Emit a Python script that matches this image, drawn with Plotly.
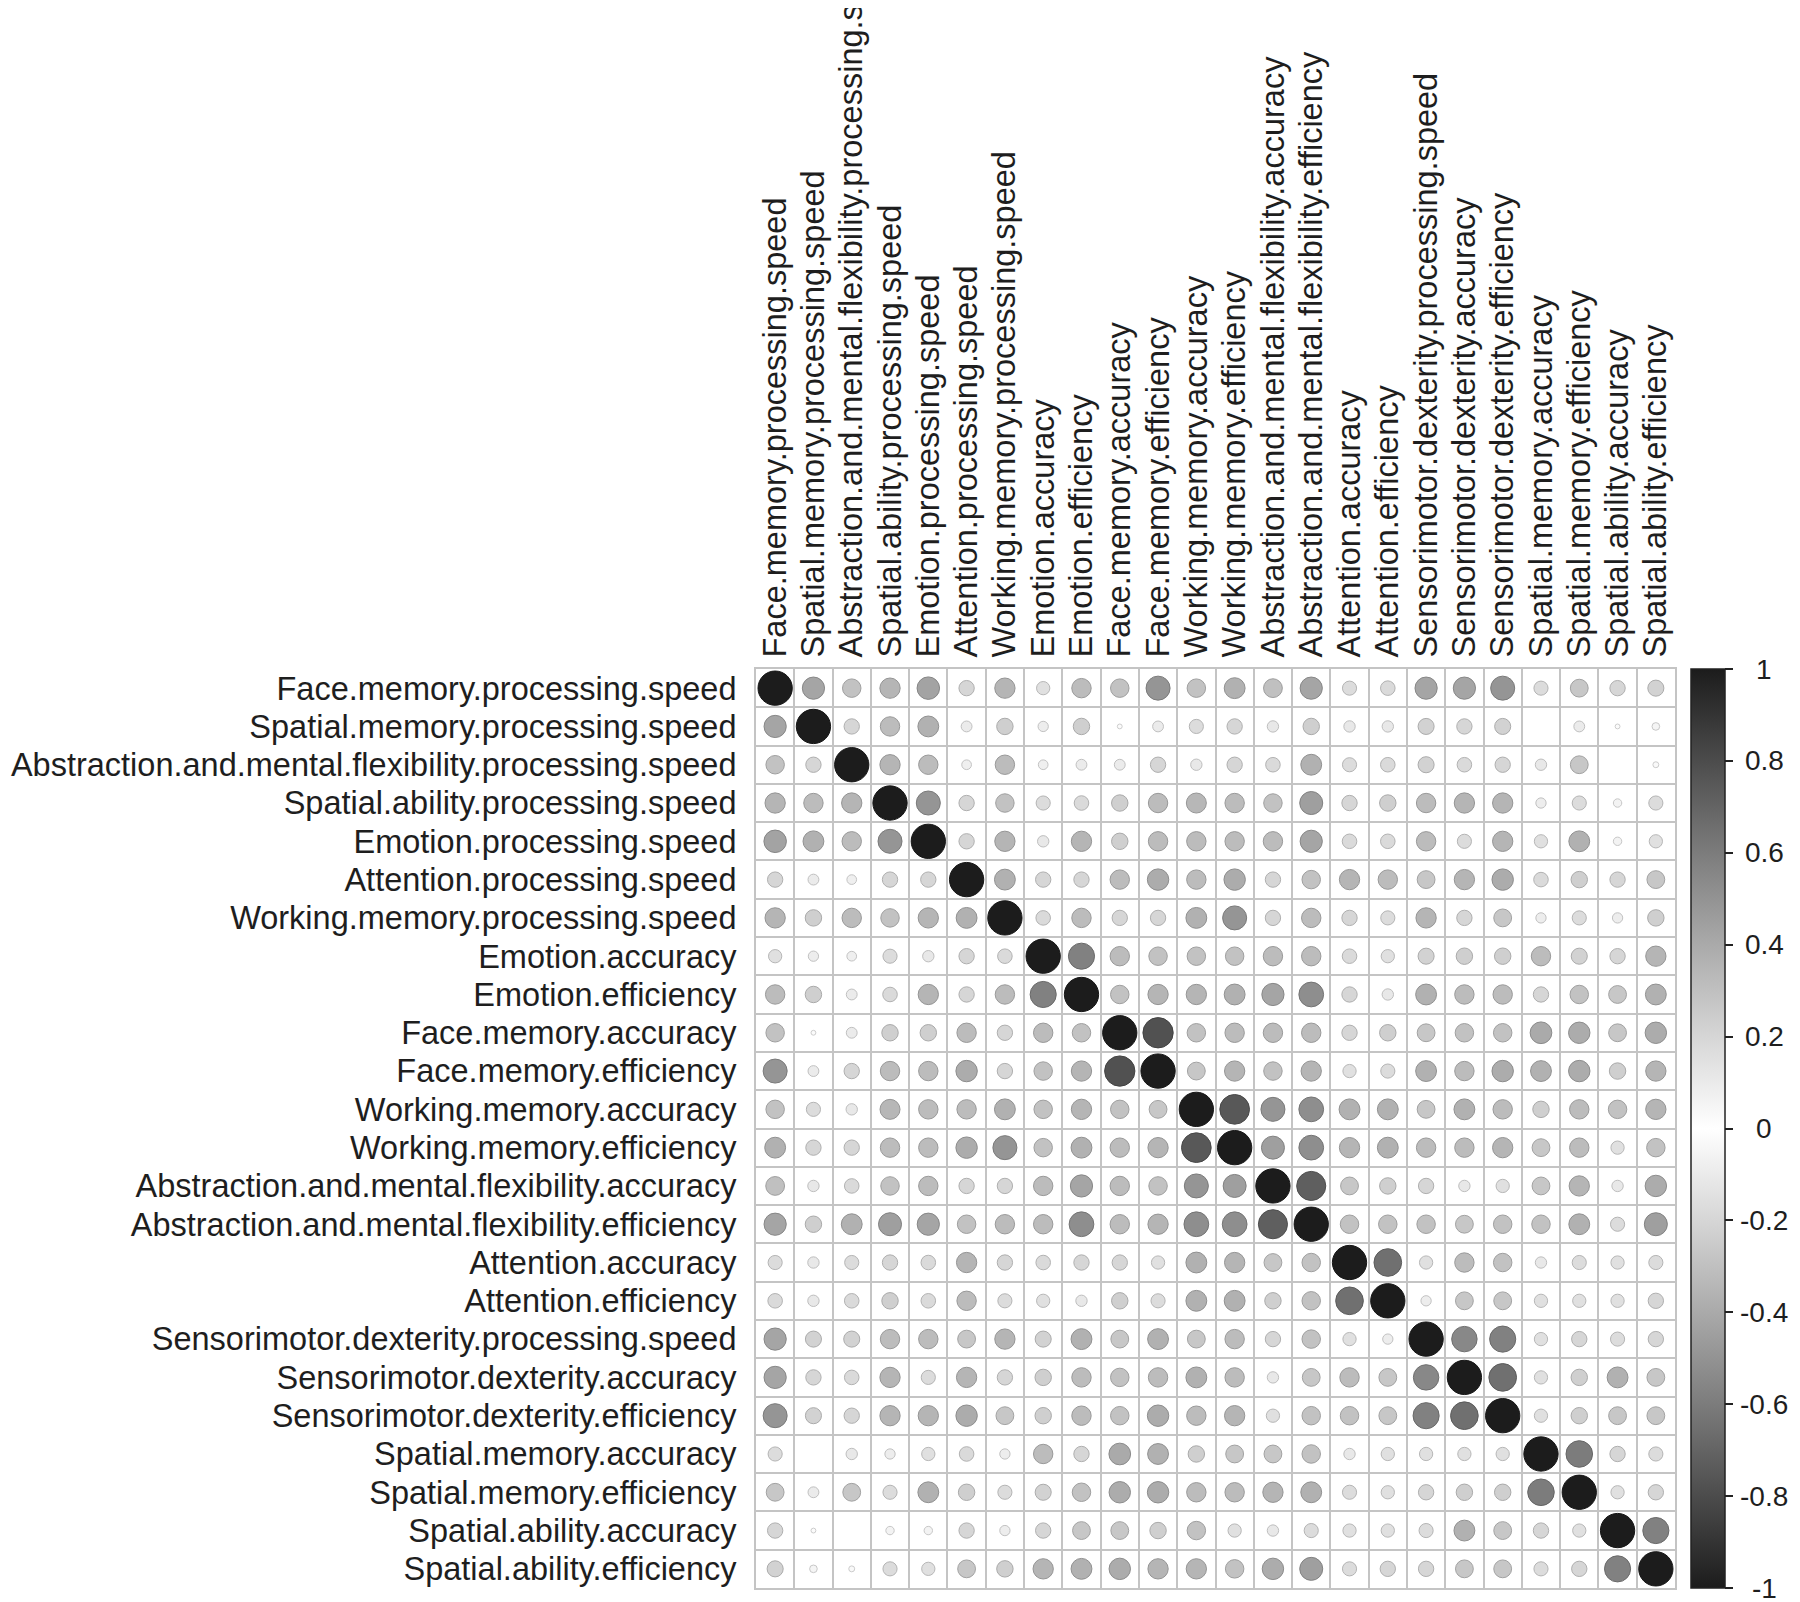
import plotly.graph_objects as go

labels = [
    "Face.memory.processing.speed",
    "Spatial.memory.processing.speed",
    "Abstraction.and.mental.flexibility.processing.speed",
    "Spatial.ability.processing.speed",
    "Emotion.processing.speed",
    "Attention.processing.speed",
    "Working.memory.processing.speed",
    "Emotion.accuracy",
    "Emotion.efficiency",
    "Face.memory.accuracy",
    "Face.memory.efficiency",
    "Working.memory.accuracy",
    "Working.memory.efficiency",
    "Abstraction.and.mental.flexibility.accuracy",
    "Abstraction.and.mental.flexibility.efficiency",
    "Attention.accuracy",
    "Attention.efficiency",
    "Sensorimotor.dexterity.processing.speed",
    "Sensorimotor.dexterity.accuracy",
    "Sensorimotor.dexterity.efficiency",
    "Spatial.memory.accuracy",
    "Spatial.memory.efficiency",
    "Spatial.ability.accuracy",
    "Spatial.ability.efficiency",
]

# upper triangle (j > i) of the correlation matrix, row by row
upper = [
    [.42, .29, .35, .43, .20, .35, .15, .32, .29, .49, .29, .37, .30, .42, .17, .18, .42, .42, .49, .17, .27, .20, .22],
    [.20, .32, .37, .10, .23, .09, .23, .02, .10, .17, .20, .11, .23, .11, .11, .22, .20, .22, .00, .10, .02, .05],
    [.35, .32, .08, .32, .08, .10, .10, .20, .11, .20, .18, .37, .17, .18, .22, .18, .20, .11, .27, .00, .03],
    [.49, .20, .29, .17, .18, .23, .32, .34, .32, .29, .45, .20, .23, .32, .35, .35, .09, .17, .06, .17],
    [.20, .35, .11, .35, .23, .32, .32, .32, .32, .42, .18, .18, .32, .17, .35, .15, .37, .06, .15],
    [.37, .20, .20, .32, .39, .32, .39, .20, .29, .35, .32, .27, .35, .39, .18, .23, .20, .27],
    [.18, .32, .20, .20, .37, .49, .20, .32, .20, .17, .35, .20, .27, .09, .17, .09, .23],
    [.58, .32, .29, .29, .29, .32, .32, .18, .15, .22, .23, .23, .32, .22, .20, .35],
    [.29, .35, .35, .37, .42, .52, .20, .11, .37, .32, .32, .20, .29, .27, .37],
    [.78, .29, .32, .32, .32, .20, .23, .27, .29, .29, .40, .39, .27, .39],
    [.27, .35, .29, .35, .15, .17, .37, .32, .39, .37, .39, .23, .35],
    [.75, .49, .52, .37, .37, .27, .37, .32, .23, .32, .29, .35],
    [.45, .52, .35, .37, .32, .32, .35, .27, .32, .15, .29],
    [.72, .27, .23, .20, .11, .15, .27, .35, .11, .39],
    [.29, .29, .29, .27, .29, .29, .37, .17, .45],
    [.65, .15, .32, .29, .11, .17, .15, .17],
    [.09, .27, .27, .15, .15, .15, .20],
    [.55, .58, .15, .20, .17, .20],
    [.65, .15, .23, .37, .27],
    [.15, .23, .27, .27],
    [.60, .20, .17],
    [.15, .20],
    [.58],
]

colorbar_ticks = [1, 0.8, 0.6, 0.4, 0.2, 0, -0.2, -0.4, -0.6, -0.8, -1]
colorbar_text = ["1", "0.8", "0.6", "0.4", "0.2", "0", "-0.2", "-0.4", "-0.6", "-0.8", "-1"]

n = len(labels)
mat = [[1.0 if i == j else None for j in range(n)] for i in range(n)]
for i, row in enumerate(upper):
    for k, v in enumerate(row):
        j = i + 1 + k
        mat[i][j] = v
        mat[j][i] = v

xs, ys, vals = [], [], []
for i in range(n):
    for j in range(n):
        xs.append(j)
        ys.append(i)
        vals.append(mat[i][j])

# grey ramp: |r| -> grey level (symmetric around 0)
ramp = [(0.0, 255), (0.2, 214), (0.4, 170), (0.6, 124), (0.8, 76), (1.0, 28)]


def grey(a):
    a = min(abs(a), 1.0)
    for (a0, l0), (a1, l1) in zip(ramp[:-1], ramp[1:]):
        if a <= a1:
            return l0 + (l1 - l0) * (a - a0) / (a1 - a0)
    return ramp[-1][1]


cs = []
for a, lv in reversed(ramp):
    cs.append([(1 - a) / 2, f"rgb({lv},{lv},{lv})"])
for a, lv in ramp[1:]:
    cs.append([(1 + a) / 2, f"rgb({lv},{lv},{lv})"])

max_d = 34.3
sizes = [max_d * abs(v) ** 0.5 for v in vals]
rims = []
for v in vals:
    lv = int(grey(v) * 0.82)
    rims.append(f"rgb({lv},{lv},{lv})")

font = "Liberation Sans, Arial, sans-serif"
grid_col = "#c4c4c4"

fig = go.Figure()
fig.add_trace(go.Scatter(
    x=xs, y=ys, mode="markers",
    marker=dict(
        size=sizes, color=vals, colorscale=cs, cmin=-1, cmax=1, opacity=1,
        line=dict(width=1, color=rims),
        showscale=True,
        colorbar=dict(
            x=1.017, xanchor="left", y=0.5, yanchor="middle", len=1.0,
            lenmode="fraction", thickness=34, xpad=0, ypad=0,
            outlinecolor="#222", outlinewidth=1.5,
            tickvals=colorbar_ticks, ticks="outside", ticklen=8,
            tickcolor="#222", tickwidth=1.5, showticklabels=False,
        ),
    ),
    hoverinfo="skip",
))

for v, t in zip(colorbar_ticks, colorbar_text):
    fig.add_annotation(
        x=1.097, y=(v + 1) / 2, xref="paper", yref="paper",
        text=t, showarrow=False, xanchor="center", yanchor="middle",
        font=dict(family=font, size=28, color="#1e1e1e"),
    )

bounds = [k - 0.5 for k in range(n + 1)]
axis_common = dict(
    showgrid=False, zeroline=False, ticks="", automargin=False,
    showline=True, mirror=True, linecolor=grid_col, linewidth=2,
    minor=dict(tickmode="array", tickvals=bounds, showgrid=True,
               gridcolor=grid_col, gridwidth=2, ticks=""),
    tickfont=dict(family=font, size=32.5, color="#1e1e1e"),
    tickmode="array", tickvals=list(range(n)), ticktext=labels,
)
fig.update_xaxes(range=[-0.5, n - 0.5], side="top", tickangle=-90,
                 ticklabelstandoff=3, **axis_common)
fig.update_yaxes(range=[n - 0.5, -0.5], ticklabelstandoff=11, **axis_common)

fig.update_layout(
    width=1800, height=1602,
    margin=dict(l=748, r=133, t=661, b=22, autoexpand=False),
    plot_bgcolor="white", paper_bgcolor="white",
    showlegend=False,
)
fig.write_html("out.html")
